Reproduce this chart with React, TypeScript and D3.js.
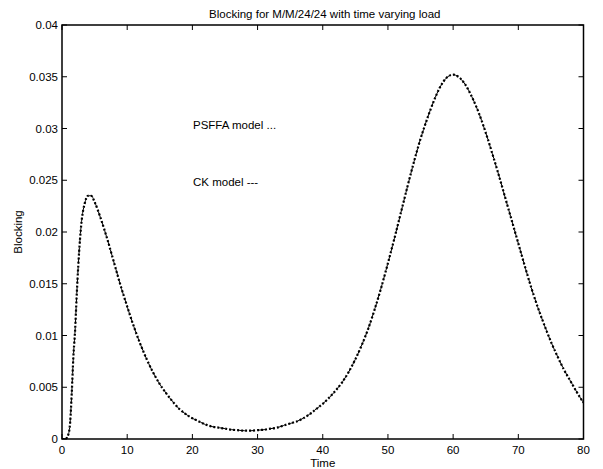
import React from 'react';
import * as d3 from 'd3';

const WIDTH = 603;
const HEIGHT = 469;

// axes box (pixels)
const LEFT = 62;
const RIGHT = 583.5;
const TOP = 25;
const BOTTOM = 439;

// sample times
const time = [
  0, 0.5, 1, 1.25, 1.5, 1.75, 2, 2.25, 2.5, 2.75, 3, 3.5, 4, 4.5, 5,
  6, 7, 8, 9, 10, 11, 12, 13, 14, 15, 16, 17, 18, 19, 20,
  21, 22, 23, 24, 25, 26, 27, 28, 29, 30, 31, 32, 33, 34, 35,
  36, 37, 38, 39, 40, 41, 42, 43, 44, 45, 46, 47, 48, 49, 50,
  51, 52, 53, 54, 55, 56, 57, 58, 59, 60, 61, 62, 63, 64, 65,
  66, 67, 68, 69, 70, 71, 72, 73, 74, 75, 76, 77, 78, 79, 80,
];

// CK model blocking
const ckBlocking = [
  0, 0, 0.0005, 0.0016, 0.0045, 0.008, 0.0104, 0.0138, 0.0168, 0.0192, 0.021, 0.0228, 0.0235, 0.0235, 0.0229,
  0.0212, 0.0192, 0.017, 0.0148, 0.0128, 0.0109, 0.0092, 0.0077, 0.0064, 0.0053, 0.0044, 0.0036, 0.0029, 0.0024, 0.002,
  0.0017, 0.0014, 0.0012, 0.0011, 0.001, 0.0009, 0.00085, 0.0008, 0.0008, 0.00085, 0.0009, 0.001, 0.0011, 0.0013, 0.0015,
  0.0017, 0.002, 0.0024, 0.0029, 0.0034, 0.004, 0.0047, 0.0055, 0.0065, 0.0077, 0.0091, 0.0107, 0.0126, 0.0147, 0.017,
  0.0194, 0.0219, 0.0244, 0.0268, 0.029, 0.0309, 0.0326, 0.034, 0.0349, 0.0352, 0.0349, 0.0341, 0.0329, 0.0314, 0.0296,
  0.0276, 0.0255, 0.0233, 0.0211, 0.0189, 0.0167, 0.0146, 0.0127, 0.011, 0.0094, 0.008, 0.0067, 0.0056, 0.0045, 0.0035,
];

// PSFFA model blocking
const psffaBlocking = [
  0, 0, 0.0005, 0.0016, 0.0045, 0.008, 0.0104, 0.0138, 0.0168, 0.0192, 0.021, 0.0228, 0.0235, 0.0235, 0.0229,
  0.0212, 0.0192, 0.017, 0.0148, 0.0128, 0.0109, 0.0092, 0.0077, 0.0064, 0.0053, 0.0044, 0.0036, 0.0029, 0.0024, 0.002,
  0.0017, 0.0014, 0.0012, 0.0011, 0.001, 0.0009, 0.00085, 0.0008, 0.0008, 0.00085, 0.0009, 0.001, 0.0011, 0.0013, 0.0015,
  0.0017, 0.002, 0.0024, 0.0029, 0.0034, 0.004, 0.0047, 0.0055, 0.0065, 0.0077, 0.0091, 0.0107, 0.0126, 0.0147, 0.017,
  0.0194, 0.0219, 0.0244, 0.0268, 0.029, 0.0309, 0.0326, 0.034, 0.0349, 0.0352, 0.0349, 0.0341, 0.0329, 0.0314, 0.0296,
  0.0276, 0.0255, 0.0233, 0.0211, 0.0189, 0.0167, 0.0146, 0.0127, 0.011, 0.0094, 0.008, 0.0067, 0.0056, 0.0045, 0.0035,
];

const xTicks = [0, 10, 20, 30, 40, 50, 60, 70, 80];
const yTicks = [0, 0.005, 0.01, 0.015, 0.02, 0.025, 0.03, 0.035, 0.04];
const yTickLabels = ['0', '0.005', '0.01', '0.015', '0.02', '0.025', '0.03', '0.035', '0.04'];

const FONT = '"Liberation Sans", Arial, Helvetica, sans-serif';

export default function App() {
  const x = d3.scaleLinear().domain([0, 80]).range([LEFT, RIGHT]);
  const y = d3.scaleLinear().domain([0, 0.04]).range([BOTTOM, TOP]);

  const line = d3.line<number>()
    .x((_, i) => x(time[i]))
    .y(d => y(d))
    .curve(d3.curveMonotoneX);

  const tickLen = 5;

  return (
    <svg width={WIDTH} height={HEIGHT} style={{ position: 'absolute', left: 0, top: 0, background: '#fff' }}
      fontFamily={FONT}>
      <defs>
        <clipPath id="plot-clip">
          <rect x={LEFT} y={TOP} width={RIGHT - LEFT} height={BOTTOM - TOP} />
        </clipPath>
      </defs>
      <rect x={0} y={0} width={WIDTH} height={HEIGHT} fill="#fff" />

      {/* curves */}
      <g clipPath="url(#plot-clip)">
        <path d={line(ckBlocking) || ''} fill="none" stroke="#000" strokeWidth={1}
          strokeDasharray="6,4" />
        <path d={line(psffaBlocking) || ''} fill="none" stroke="#000" strokeWidth={2.2}
          strokeDasharray="2,2" />
      </g>

      {/* box */}
      <rect x={LEFT} y={TOP} width={RIGHT - LEFT} height={BOTTOM - TOP} fill="none" stroke="#000" strokeWidth={1.5} />

      {/* x ticks */}
      {xTicks.map(t => (
        <g key={'x' + t}>
          <line x1={x(t)} x2={x(t)} y1={BOTTOM} y2={BOTTOM - tickLen} stroke="#000" strokeWidth={1} />
          <line x1={x(t)} x2={x(t)} y1={TOP} y2={TOP + tickLen} stroke="#000" strokeWidth={1} />
          <text x={x(t)} y={BOTTOM + 15} textAnchor="middle" fontSize={11.5}>{t}</text>
        </g>
      ))}

      {/* y ticks */}
      {yTicks.map((v, i) => (
        <g key={'y' + i}>
          <line x1={LEFT} x2={LEFT + tickLen} y1={y(v)} y2={y(v)} stroke="#000" strokeWidth={1} />
          <line x1={RIGHT} x2={RIGHT - tickLen} y1={y(v)} y2={y(v)} stroke="#000" strokeWidth={1} />
          <text x={LEFT - 4} y={y(v) + 4} textAnchor="end" fontSize={11.5}>{yTickLabels[i]}</text>
        </g>
      ))}

      {/* labels */}
      <text x={(LEFT + RIGHT) / 2 + 2} y={18} textAnchor="middle" fontSize={11.5}>
        Blocking for M/M/24/24 with time varying load
      </text>
      <text x={(LEFT + RIGHT) / 2} y={467} textAnchor="middle" fontSize={11.5}>Time</text>
      <text transform={`translate(22, ${(TOP + BOTTOM) / 2}) rotate(-90)`} textAnchor="middle" fontSize={11.5}>
        Blocking
      </text>

      {/* legend annotations */}
      <text x={193} y={129} fontSize={11.5}>PSFFA model ...</text>
      <text x={193} y={186} fontSize={11.5}>CK model ---</text>
    </svg>
  );
}
